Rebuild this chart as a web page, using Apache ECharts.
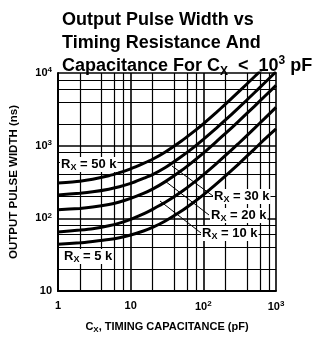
<!DOCTYPE html>
<html>
<head>
<meta charset="utf-8">
<script src="https://cdn.jsdelivr.net/npm/echarts@6/dist/echarts.min.js"></script>
<style>
  html, body { margin: 0; padding: 0; background: #fff; }
  #main { width: 315px; height: 339px; }
</style>
</head>
<body>
<div id="main"></div>
<script>
// timing capacitance, pF
var capacitance = [1, 2, 3, 5, 7, 10, 15, 20, 30, 50, 70, 100, 150, 200, 300, 500, 700, 1000];
// output pulse width, ns, one list per timing resistor
var rx50k = [307, 325, 345, 385, 425, 480, 570, 650, 820, 1160, 1500, 2000, 2850, 3700, 5400, 8800, 12200, 17300];
var rx30k = [210, 222, 232, 252, 272, 302, 355, 400, 500, 710, 910, 1220, 1730, 2240, 3260, 5300, 7350, 10400];
var rx20k = [131, 137, 143, 155, 168, 188, 220, 252, 320, 455, 590, 790, 1130, 1460, 2130, 3450, 4780, 6750];
var rx10k = [65, 69, 72, 79, 86, 97, 115, 133, 166, 232, 298, 397, 562, 727, 1055, 1715, 2375, 3360];
var rx5k = [44, 46, 48, 51, 54, 59, 67, 75, 92, 126, 160, 210, 295, 380, 550, 890, 1230, 1700];

var xMinorTicks = [2, 4, 6, 8, 20, 40, 60, 80, 200, 400, 600, 800];
var yMinorTicks = [20, 40, 60, 80, 200, 400, 600, 800, 2000, 4000, 6000, 8000];

var chart = echarts.init(document.getElementById('main'), null, { renderer: 'canvas' });

var FONT = 'Liberation Sans';

function pairs(ys) {
  return capacitance.map(function (c, i) { return [c, ys[i]]; });
}

function powLabel(v) {
  var e = Math.round(Math.log10(v));
  if (e === 0) return '1';
  if (e === 1) return '10';
  return '{b|10}{s|' + e + '}';
}

var labelRich = {
  b: { fontFamily: FONT, fontWeight: 'bold', fontSize: 11, color: '#000', lineHeight: 14 },
  s: { fontFamily: FONT, fontWeight: 'bold', fontSize: 8, color: '#000', lineHeight: 9, verticalAlign: 'top' }
};

function curve(name, ys) {
  return {
    name: name,
    type: 'line',
    data: pairs(ys),
    smooth: 0.2,
    symbol: 'none',
    lineStyle: { color: '#000', width: 3 },
    z: 5
  };
}

var rxRich = {
  a: { fontFamily: FONT, fontWeight: 'bold', fontSize: 13, color: '#000', lineHeight: 15 },
  x: { fontFamily: FONT, fontWeight: 'bold', fontSize: 9, color: '#000', lineHeight: 10, verticalAlign: 'bottom' }
};

function rxLabel(txt, left, top) {
  return {
    type: 'text',
    left: left,
    top: top,
    z: 20,
    style: {
      text: '{a|R}{x|X}{a| = ' + txt + '}',
      rich: rxRich,
      backgroundColor: '#fff',
      padding: [0, 1, 0, 1]
    }
  };
}

function leader(x1, y1, x2, y2) {
  return {
    type: 'line',
    z: 15,
    shape: { x1: x1, y1: y1, x2: x2, y2: y2 },
    style: { stroke: '#000', lineWidth: 1 }
  };
}

var option = {
  backgroundColor: '#fff',
  animation: false,
  title: {
    left: 57,
    top: 4,
    text: '{t|Output Pulse Width vs}\n{t|Timing Resistance And}\n{t|Capacitance For C}{ts|X}{t|  <  10}{tp|3}{t| pF}',
    textStyle: {
      rich: {
        t: { fontFamily: FONT, fontWeight: 'bold', fontSize: 18, color: '#000', lineHeight: 23 },
        ts: { fontFamily: FONT, fontWeight: 'bold', fontSize: 12, color: '#000', lineHeight: 13, verticalAlign: 'bottom' },
        tp: { fontFamily: FONT, fontWeight: 'bold', fontSize: 12, color: '#000', lineHeight: 13, verticalAlign: 'top' }
      }
    }
  },
  grid: { left: 57, right: 39, top: 73, bottom: 48 },
  xAxis: {
    type: 'log',
    logBase: 10,
    min: 1,
    max: 1000,
    name: '{a|C}{x|X}{a|, TIMING CAPACITANCE (pF)}',
    nameLocation: 'middle',
    nameGap: 29,
    nameTextStyle: {
      rich: {
        a: { fontFamily: FONT, fontWeight: 'bold', fontSize: 11, color: '#000', lineHeight: 14 },
        x: { fontFamily: FONT, fontWeight: 'bold', fontSize: 8, color: '#000', lineHeight: 9, verticalAlign: 'bottom' }
      }
    },
    axisLine: { lineStyle: { color: '#000', width: 2 } },
    axisTick: { show: false },
    axisLabel: { margin: 9, formatter: powLabel, rich: labelRich, fontFamily: FONT, fontWeight: 'bold', fontSize: 11, color: '#000' },
    splitLine: { show: true, lineStyle: { color: '#000', width: 1.6 } }
  },
  yAxis: {
    type: 'log',
    logBase: 10,
    min: 10,
    max: 10000,
    name: 'OUTPUT PULSE WIDTH (ns)',
    nameLocation: 'middle',
    nameGap: 38,
    nameTextStyle: { fontFamily: FONT, fontWeight: 'bold', fontSize: 11.5, color: '#000' },
    axisLine: { lineStyle: { color: '#000', width: 2 } },
    axisTick: { show: false },
    axisLabel: { margin: 6, formatter: powLabel, rich: labelRich, fontFamily: FONT, fontWeight: 'bold', fontSize: 11, color: '#000' },
    splitLine: { show: true, lineStyle: { color: '#000', width: 1.6 } }
  },
  series: [
    {
      type: 'line',
      data: [],
      silent: true,
      markLine: {
        silent: true,
        symbol: 'none',
        label: { show: false },
        lineStyle: { color: '#000', width: 1.2, type: 'solid' },
        data: xMinorTicks.map(function (v) { return { xAxis: v }; })
          .concat(yMinorTicks.map(function (v) { return { yAxis: v }; }))
      }
    },
    curve('50k', rx50k),
    curve('30k', rx30k),
    curve('20k', rx20k),
    curve('10k', rx10k),
    curve('5k', rx5k)
  ],
  graphic: [
    leader(172, 166, 213, 196),
    leader(165, 181, 209, 215),
    leader(160, 201, 201, 233),
    rxLabel('50 k', 60, 157),
    rxLabel('5 k', 63, 249),
    rxLabel('30 k', 213, 189),
    rxLabel('20 k', 210, 208),
    rxLabel('10 k', 201, 226)
  ]
};

chart.setOption(option);
</script>
</body>
</html>
